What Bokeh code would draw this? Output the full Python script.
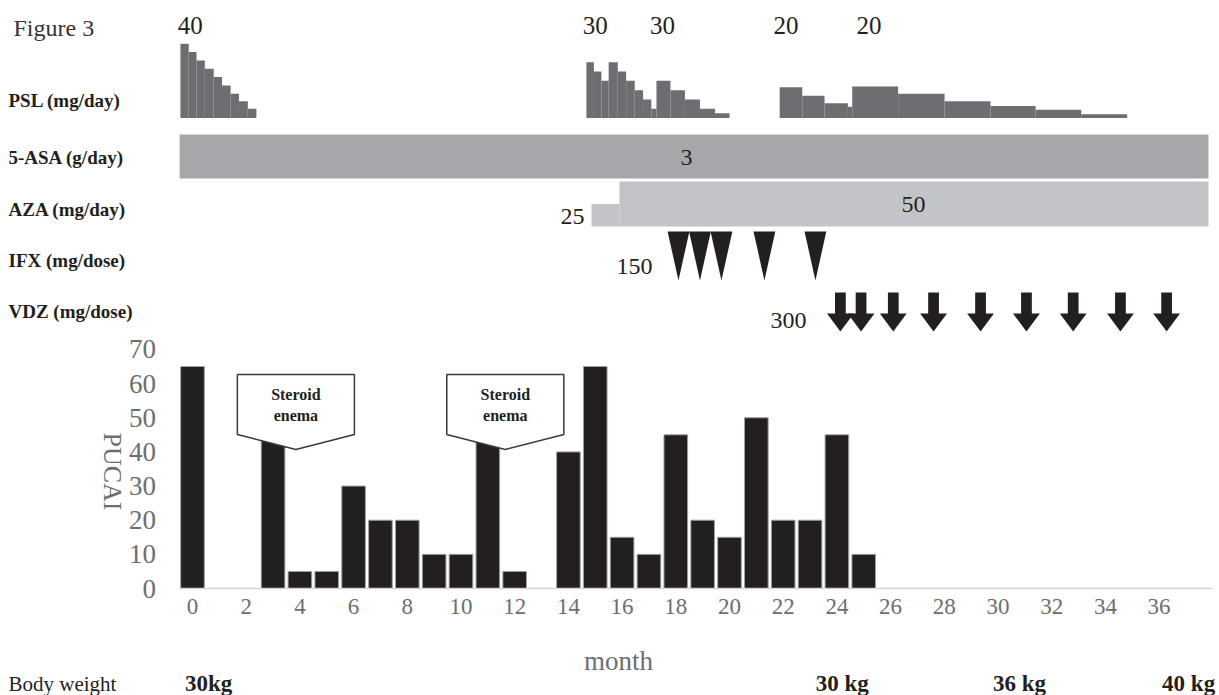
import math
from bokeh.plotting import figure
from bokeh.models import Range1d, FixedTicker
from bokeh.core.properties import value
from bokeh.embed import file_html
from bokeh.resources import INLINE

# ---------------- data ----------------
# PUCAI by month
months = [0, 3, 4, 5, 6, 7, 8, 9, 10, 11, 12, 14, 15, 16, 17, 18, 19, 20, 21, 22, 23, 24, 25]
pucai = [65, 45, 5, 5, 30, 20, 20, 10, 10, 45, 5, 40, 65, 15, 10, 45, 20, 15, 50, 20, 20, 45, 10]
x_ticks = list(range(0, 37, 2))
y_ticks = list(range(0, 71, 10))

# PSL taper steps (month start, month end, mg/day)
psl_start = [-0.45, -0.14, 0.15, 0.46, 0.79, 1.10, 1.42, 1.73, 2.06,
             14.67, 14.95, 15.23, 15.50, 15.84, 16.15, 16.47, 16.78, 17.09, 17.28, 17.80, 18.34, 18.90, 19.46,
             21.87, 22.71, 23.54, 24.41, 24.57, 26.28, 28.01, 29.72, 31.40, 33.10]
psl_end = [-0.14, 0.15, 0.46, 0.79, 1.10, 1.42, 1.73, 2.06, 2.38,
           14.95, 15.23, 15.50, 15.84, 16.15, 16.47, 16.78, 17.09, 17.28, 17.80, 18.34, 18.90, 19.46, 20.00,
           22.71, 23.54, 24.41, 24.57, 26.28, 28.01, 29.72, 31.40, 33.10, 34.81]
psl_dose = [40, 35.5, 31, 26.5, 22, 17.5, 13, 9, 5,
            30, 25, 20, 30, 25, 20, 15, 10, 5, 20, 15, 10, 5, 2.5,
            16.5, 12, 8, 6, 17, 13, 9, 6.5, 4.5, 2]
psl_label_text = ["40", "30", "30", "20", "20"]
psl_label_month = [-0.08, 15.0, 17.5, 22.1, 25.2]

# 5-ASA
asa_start = [-0.48]
asa_end = [37.84]
asa_dose = [3]

# AZA
aza_start = [14.86, 15.90]
aza_end = [15.90, 37.84]
aza_dose = [25, 50]

# IFX
ifx_month = [18.1, 18.9, 19.7, 21.3, 23.2]
ifx_dose = 150

# VDZ
vdz_month = [24.13, 24.9, 26.1, 27.6, 29.35, 31.06, 32.8, 34.56, 36.28]
vdz_dose = 300

# Steroid enema
enema_month = [3.85, 11.65]

# Body weight
weight_month = [0.6, 24.2, 30.8, 37.1]
weight_label = ["30kg", "30 kg", "36 kg", "40 kg"]

row_labels = ["PSL (mg/day)", "5-ASA (g/day)", "AZA (mg/day)", "IFX (mg/dose)", "VDZ (mg/dose)"]

# ---------------- layout constants (page pixels) ----------------
W, H = 1219, 695
X0_PX = 192          # page x of month 0
PX_PER_MONTH = 26.85
BASE_PX = 588        # page y of PUCAI 0
PUCAI_PX = 3.415
PSL_BASE, PSL_PX = 117.5, 1.858
AZA_BASE, AZA_PX = 226, 0.9
FONT = "Liberation Serif"
BAR = "#231f20"
GREY_TXT = "#6d6e71"


def mx(page_x):
    return (page_x - X0_PX) / PX_PER_MONTH


p = figure(width=W, height=H, output_backend="svg", toolbar_location=None,
           x_range=Range1d(mx(0), mx(W)),
           y_range=Range1d(-(H - BASE_PX) / PUCAI_PX, BASE_PX / PUCAI_PX),
           min_border=0, min_border_left=0, min_border_right=0,
           min_border_top=0, min_border_bottom=0, title=None)
p.outline_line_color = None
p.xgrid.visible = False
p.ygrid.visible = False

p.extra_y_ranges = {
    "lane": Range1d(start=H, end=0),
    "psl": Range1d(start=-(H - PSL_BASE) / PSL_PX, end=PSL_BASE / PSL_PX),
    "aza": Range1d(start=-(H - AZA_BASE) / AZA_PX, end=AZA_BASE / AZA_PX),
}

# axes, pinned inside the canvas
xa = p.xaxis[0]
xa.fixed_location = 0
xa.bounds = (-0.5, mx(1212))
xa.ticker = FixedTicker(ticks=x_ticks)
xa.major_tick_in = 0
xa.major_tick_out = 0
xa.minor_tick_in = 0
xa.minor_tick_out = 0
xa.major_tick_line_color = None
xa.minor_tick_line_color = None
xa.axis_line_color = "#d4d4d4"
xa.axis_line_width = 1.5
xa.major_label_standoff = 10
xa.major_label_text_font = FONT
xa.major_label_text_font_size = "23px"
xa.major_label_text_color = GREY_TXT

ya = p.yaxis[0]
ya.fixed_location = -0.5
ya.bounds = (0, 70)
ya.ticker = FixedTicker(ticks=y_ticks)
ya.major_tick_in = 0
ya.major_tick_out = 0
ya.minor_tick_in = 0
ya.minor_tick_out = 0
ya.major_tick_line_color = None
ya.minor_tick_line_color = None
ya.axis_line_color = None
ya.major_label_standoff = 23
ya.major_label_text_font = FONT
ya.major_label_text_font_size = "27px"
ya.major_label_text_color = GREY_TXT


def txt(x, y, t, size, rng="lane", style="normal", color=BAR, align="left", angle=0):
    p.text(x=x, y=y, text=t, y_range_name=rng, angle=angle,
           text_font=value(FONT), text_font_size=size, text_font_style=style,
           text_color=color, text_align=align, text_baseline="middle")


# PUCAI bars
p.vbar(x=months, top=pucai, bottom=0, width=0.88, fill_color=BAR, line_color="#a0a0a0", line_width=1)

# Steroid enema callouts
HALF = 2.18
cx, cy = [], []
for m in enema_month:
    cx.append([m - HALF, m + HALF, m + HALF, m, m - HALF])
    cy.append([62.7, 62.7, 45.1, 40.7, 45.1])
p.patches(cx, cy, fill_color="white", line_color="#3a3a3a", line_width=1.5)
n = len(enema_month)
txt(enema_month, [56.9] * n, ["Steroid"] * n, "16px", rng="default", style="bold", align="center")
txt(enema_month, [50.8] * n, ["enema"] * n, "16px", rng="default", style="bold", align="center")

# PSL
p.quad(left=psl_start, right=psl_end, bottom=0, top=psl_dose, y_range_name="psl",
       fill_color="#6d6e71", line_color=None)
txt(psl_label_month, [25] * len(psl_label_month), psl_label_text, "25px", align="center")

# 5-ASA
p.quad(left=asa_start, right=asa_end, top=[134], bottom=[178], y_range_name="lane",
       fill_color="#a6a7aa", line_color=None)
txt([mx(686)], [157], [str(asa_dose[0])], "24px", align="center")

# AZA
p.quad(left=aza_start, right=aza_end, bottom=0, top=aza_dose, y_range_name="aza",
       fill_color="#c3c4c7", line_color=None)
txt([mx(584)], [216], [str(aza_dose[0])], "24px", align="right")
txt([mx(913)], [204], [str(aza_dose[1])], "24px", align="center")

# IFX triangles
tx, ty = [], []
for m in ifx_month:
    tx.append([m - 0.405, m + 0.405, m])
    ty.append([231, 231, 280])
p.patches(tx, ty, y_range_name="lane", fill_color=BAR, line_color=None)
txt([mx(652)], [266], [str(ifx_dose)], "24px", align="right")

# VDZ arrows
ax, ay = [], []
for m in vdz_month:
    ax.append([m - 0.2, m + 0.2, m + 0.2, m + 0.5, m, m - 0.5, m - 0.2])
    ay.append([292, 292, 313, 313, 331, 313, 313])
p.patches(ax, ay, y_range_name="lane", fill_color=BAR, line_color=None)
txt([mx(806)], [320], [str(vdz_dose)], "24px", align="right")

# ---------------- side / bottom labels ----------------
txt([mx(13)], [27], ["Figure 3"], "24px", color="#333333")
txt([mx(8)] * len(row_labels), [100, 157, 209, 260, 311], row_labels, "19px", style="bold")
txt([mx(112)], [471], ["PUCAI"], "26px", color=GREY_TXT, align="center", angle=-math.pi / 2)
txt([mx(618)], [660], ["month"], "27px", color=GREY_TXT, align="center")
txt([mx(8)], [683], ["Body weight"], "21px")
txt(weight_month, [683] * len(weight_month), weight_label, "23px", style="bold", align="center")

open("out.html", "w").write(file_html(p, INLINE))
